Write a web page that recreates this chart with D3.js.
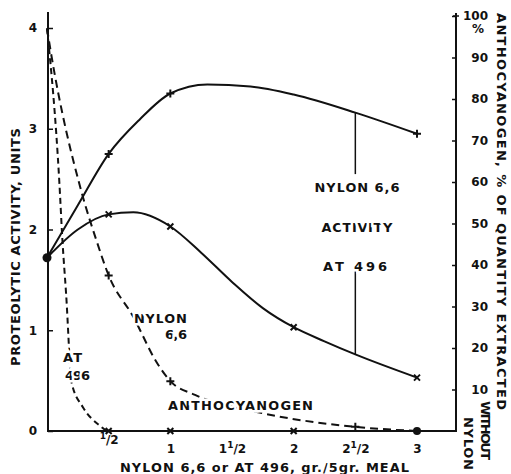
<!DOCTYPE html>
<html lang="en">
  <head>
    <meta charset="UTF-8" />
    <title>Proteolytic activity and anthocyanogen</title>
    <script src="https://d3js.org/d3.v7.min.js"></script>
    <style>
      body {
        margin: 0;
        background: #fff;
      }
      text {
        font-family: "DejaVu Sans", Arial, sans-serif;
        font-weight: bold;
        fill: #111;
      }
      .halo {
        stroke: #fff;
        stroke-width: 5px;
        paint-order: stroke;
      }
    </style>
  </head>
  <body>
    <div class="chart"></div>
  </body>

  <script>
    // x = gr. of adsorbent per 5 gr. meal
    var xTicks = [0.5, 1, 1.5, 2, 2.5, 3];
    var leftTicks = [0, 1, 2, 3, 4];
    var rightTicks = [10, 20, 30, 40, 50, 60, 70, 80, 90, 100];

    // proteolytic activity, units (left axis)
    var nylonActX = [0, 0.25, 0.5, 0.75, 1, 1.3, 1.65, 2, 2.5, 3];
    var nylonActY = [1.72, 2.24, 2.75, 3.09, 3.35, 3.44, 3.42, 3.34, 3.16, 2.95];
    var atActX = [0, 0.25, 0.5, 0.7, 1, 1.25, 1.5, 1.75, 2, 2.25, 2.5, 3];
    var atActY = [1.72, 2.0, 2.15, 2.17, 2.03, 1.77, 1.48, 1.22, 1.03, 0.89, 0.76, 0.53];

    // anthocyanogen, % of quantity extracted without nylon (right axis)
    var nylonAnthX = [0, 0.03, 0.28, 0.4, 0.5, 0.7, 0.89, 1, 1.2, 1.7, 2.5, 3];
    var nylonAnthY = [97, 91.5, 57.6, 46, 37.5, 27.5, 16.5, 12, 8.7, 4.6, 1, 0];
    var atAnthX = [0, 0.1, 0.125, 0.155, 0.2, 0.29, 0.42, 0.5, 1, 2, 3];
    var atAnthY = [97, 60, 46, 33, 11.6, 5.8, 1.5, 0, 0, 0, 0];

    // which points carry a marker
    var nylonActMarks = [0.5, 1, 3];
    var atActMarks = [0.5, 1, 2, 3];
    var nylonAnthMarks = [0.5, 1, 2.5];
    var atAnthMarks = [0.5, 1, 2];

    var width = 511;
    var height = 474;

    var svg = d3
      .select(".chart")
      .append("svg")
      .attr("width", width)
      .attr("height", height);

    var x = d3.scaleLinear().domain([0, 3]).range([47, 417]);
    var yL = d3.scaleLinear().domain([0, 4]).range([431, 28]);
    var yR = d3.scaleLinear().domain([0, 100]).range([431, 16]);

    // axis lines
    svg
      .append("path")
      .attr("d", "M48,12V431H456V13")
      .attr("fill", "none")
      .attr("stroke", "#111")
      .attr("stroke-width", 2);

    function styleTicks(g) {
      g.select(".domain").remove();
      g.selectAll("line").attr("stroke", "#111").attr("stroke-width", 1.5);
      g.selectAll("text")
        .style("font-size", "12px")
        .style("font-family", "'DejaVu Sans', Arial, sans-serif")
        .style("font-weight", "bold")
        .attr("fill", "#111");
    }

    var leftAxis = d3
      .axisLeft(yL)
      .tickValues(leftTicks)
      .tickSizeInner(-5)
      .tickSizeOuter(0)
      .tickPadding(11)
      .tickFormat(d3.format("d"));
    var gl = svg.append("g").attr("transform", "translate(48,0)").call(leftAxis);
    styleTicks(gl);

    var rightAxis = d3
      .axisRight(yR)
      .tickValues(rightTicks)
      .tickSizeInner(-4)
      .tickSizeOuter(0)
      .tickPadding(32)
      .tickFormat(d3.format("d"));
    var gr = svg.append("g").attr("transform", "translate(456,0)").call(rightAxis);
    styleTicks(gr);
    gr.selectAll("text").attr("text-anchor", "end");
    // little crossbar on top
    svg
      .append("line")
      .attr("x1", 453)
      .attr("x2", 459)
      .attr("y1", yR(100))
      .attr("y2", yR(100))
      .attr("stroke", "#111")
      .attr("stroke-width", 1.5);
    svg
      .append("text")
      .attr("x", 478)
      .attr("y", yR(100) + 17)
      .attr("text-anchor", "middle")
      .style("font-size", "12px")
      .text("%");

    var bottomAxis = d3
      .axisBottom(x)
      .tickValues(xTicks)
      .tickSize(0)
      .tickPadding(13);
    var gb = svg.append("g").attr("transform", "translate(0,431)").call(bottomAxis);
    styleTicks(gb);
    gb.selectAll("text").each(function (d) {
      var t = d3.select(this).text(null);
      var whole = Math.floor(d);
      if (whole > 0) t.append("tspan").text(whole);
      if (d % 1 !== 0) {
        t.append("tspan").attr("dy", -5).style("font-size", "9px").text("1");
        t.append("tspan").attr("dy", 5).text("/2");
      }
    });

    // curves
    function draw(xs, ys, scale, dash, marks, marker) {
      var pts = xs.map((v, i) => [v, ys[i]]);
      svg
        .append("path")
        .datum(pts)
        .attr("fill", "none")
        .attr("stroke", "#111")
        .attr("stroke-width", 2)
        .attr("stroke-dasharray", dash)
        .attr(
          "d",
          d3
            .line()
            .curve(d3.curveMonotoneX)
            .x((d) => x(d[0]))
            .y((d) => scale(d[1]))
        );

      var shape =
        marker == "+" ? "M-4,0H4M0,-4V4" : "M-3,-3L3,3M-3,3L3,-3";
      svg
        .selectAll(null)
        .data(pts.filter((d) => marks.indexOf(d[0]) >= 0))
        .enter()
        .append("path")
        .attr("transform", (d) => "translate(" + x(d[0]) + "," + scale(d[1]) + ")")
        .attr("d", shape)
        .attr("stroke", "#111")
        .attr("stroke-width", 2);
    }

    draw(nylonActX, nylonActY, yL, null, nylonActMarks, "+");
    draw(atActX, atActY, yL, null, atActMarks, "x");
    draw(nylonAnthX, nylonAnthY, yR, "8,5", nylonAnthMarks, "+");
    draw(atAnthX, atAnthY, yR, "6,4", atAnthMarks, "x");

    // filled dots
    svg
      .append("circle")
      .attr("cx", x(0))
      .attr("cy", yL(nylonActY[0]))
      .attr("r", 4.5)
      .attr("fill", "#111");
    svg
      .append("circle")
      .attr("cx", x(3))
      .attr("cy", yR(0))
      .attr("r", 4)
      .attr("fill", "#111");

    // leader lines for the activity labels
    svg
      .append("line")
      .attr("x1", x(2.5))
      .attr("x2", x(2.5))
      .attr("y1", yL(3.16))
      .attr("y2", yL(2.55))
      .attr("stroke", "#111")
      .attr("stroke-width", 1.5);
    svg
      .append("line")
      .attr("x1", x(2.5))
      .attr("x2", x(2.5))
      .attr("y1", yL(1.6))
      .attr("y2", yL(0.76))
      .attr("stroke", "#111")
      .attr("stroke-width", 1.5);

    function label(txt, px, py, anchor, len) {
      var t = svg
        .append("text")
        .attr("class", "halo")
        .attr("x", px)
        .attr("y", py)
        .attr("text-anchor", anchor)
        .style("font-size", "13px")
        .text(txt);
      if (len) t.attr("textLength", len).attr("lengthAdjust", "spacing");
      return t;
    }

    label("NYLON 6,6", 357, 192, "middle", 85);
    label("ACTIVITY", 357, 232, "middle", 71);
    label("AT 496", 355, 271, "middle", 64);
    label("NYLON", 187, 323, "end", 53);
    label("6,6", 187, 339, "end", 22);
    label("AT", 63, 362, "start", 19);
    label("496", 65, 380, "start", 25);
    label("ANTHOCYANOGEN", 168, 410, "start", 145);

    // axis titles
    label("NYLON 6,6 or AT 496, gr./5gr. MEAL", 120, 472, "start", 289);

    svg
      .append("text")
      .attr("transform", "translate(15,247) rotate(-90)")
      .attr("text-anchor", "middle")
      .attr("dy", "0.36em")
      .attr("textLength", 238)
      .attr("lengthAdjust", "spacing")
      .style("font-size", "13px")
      .text("PROTEOLYTIC ACTIVITY, UNITS");

    var rt = [
      ["ANTHOCYANOGEN, % OF QUANTITY EXTRACTED", 502, 13, 397],
      ["WITHOUT", 486, 401, 59],
      ["NYLON", 469, 417, 53],
    ];
    rt.forEach(function (r) {
      svg
        .append("text")
        .attr("transform", "translate(" + r[1] + "," + r[2] + ") rotate(90)")
        .attr("text-anchor", "start")
        .attr("dy", "0.36em")
        .attr("textLength", r[3])
        .attr("lengthAdjust", "spacing")
        .style("font-size", "13px")
        .text(r[0]);
    });
  </script>
</html>
